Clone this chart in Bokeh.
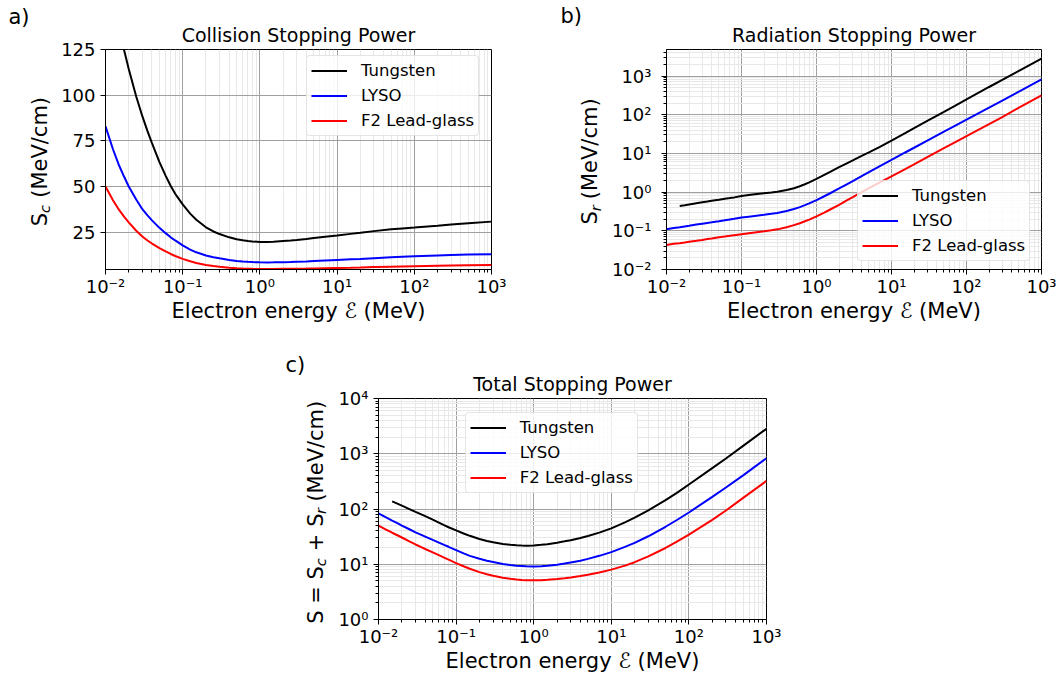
from bokeh.plotting import figure
from bokeh.models import Range1d, FixedTicker, Legend, LegendItem, Spacer, Title
from bokeh.layouts import row, column
from bokeh.embed import file_html
from bokeh.resources import INLINE

# ---------------- data ----------------
energy_mev = [0.01, 0.0125, 0.015, 0.0175, 0.02, 0.025, 0.03, 0.035, 0.04, 0.05, 0.06, 0.07, 0.08,
              0.1, 0.125, 0.15, 0.2, 0.25, 0.3, 0.4, 0.5, 0.6, 0.7, 0.8, 1, 1.25, 1.5, 2, 2.5, 3,
              4, 5, 7, 10, 15, 20, 30, 50, 70, 100, 200, 300, 500, 1000]
energy_tungsten = [0.015, 0.0175, 0.02, 0.025, 0.03, 0.035, 0.04, 0.05, 0.06, 0.07, 0.08,
                   0.1, 0.125, 0.15, 0.2, 0.25, 0.3, 0.4, 0.5, 0.6, 0.7, 0.8, 1, 1.25, 1.5, 2, 2.5, 3,
                   4, 5, 7, 10, 15, 20, 30, 50, 70, 100, 200, 300, 500, 1000]

collision_tungsten = [137, 124.3, 114.3, 99.3, 88.5, 80.3, 73.8, 63.4, 56.0, 50.3, 46.0,
                      40.2, 35.2, 31.8, 27.7, 25.4, 24.0, 22.2, 21.2, 20.6, 20.2, 19.95, 19.7, 19.7, 19.8,
                      20.2, 20.5, 20.8, 21.3, 21.8, 22.5, 23.2, 24.1, 24.7, 25.6, 26.6, 27.1, 27.6,
                      28.6, 29.2, 29.9, 30.8]
collision_lyso = [83, 70.4, 61.5, 55.2, 50.0, 42.9, 37.6, 34.2, 31.5, 27.4, 24.5, 22.2, 20.5,
                  17.8, 15.5, 14.0, 12.3, 11.3, 10.7, 9.8, 9.3, 9.0, 8.8, 8.65, 8.5, 8.45, 8.5, 8.6,
                  8.7, 8.85, 9.0, 9.2, 9.5, 9.8, 10.15, 10.4, 10.8, 11.25, 11.55, 11.85, 12.3, 12.5,
                  12.75, 13.0]
collision_f2 = [50, 42.5, 37.2, 33.4, 30.4, 25.8, 22.7, 20.5, 18.8, 16.3, 14.5, 13.1, 12.0,
                10.4, 9.1, 8.2, 7.1, 6.5, 6.1, 5.6, 5.3, 5.12, 5.02, 4.95, 4.88, 4.86, 4.88, 4.95,
                5.0, 5.05, 5.13, 5.2, 5.32, 5.45, 5.6, 5.72, 5.9, 6.12, 6.26, 6.4, 6.65, 6.78,
                6.93, 7.1]

radiation_tungsten = [0.44, 0.46, 0.48, 0.515, 0.545, 0.57, 0.595, 0.635, 0.67, 0.70, 0.73,
                      0.79, 0.84, 0.88, 0.94, 0.98, 1.02, 1.13, 1.26, 1.42, 1.6, 1.78, 2.2, 2.75, 3.3,
                      4.4, 5.45, 6.5, 8.6, 10.6, 14.8, 21.5, 33, 45, 69, 118, 169, 250, 520, 790,
                      1360, 2800]
radiation_lyso = [0.11, 0.1175, 0.124, 0.130, 0.135, 0.145, 0.153, 0.16, 0.166, 0.177, 0.188, 0.197,
                  0.205, 0.22, 0.232, 0.242, 0.259, 0.274, 0.29, 0.325, 0.365, 0.41, 0.46, 0.51,
                  0.62, 0.77, 0.92, 1.24, 1.57, 1.9, 2.6, 3.3, 4.7, 6.8, 10.4, 14.0, 21.3, 36.4,
                  51.6, 74.6, 153, 232, 394, 817]
radiation_f2 = [0.043, 0.046, 0.048, 0.050, 0.052, 0.055, 0.058, 0.061, 0.063, 0.068, 0.071, 0.074,
                0.077, 0.082, 0.087, 0.091, 0.097, 0.103, 0.109, 0.124, 0.14, 0.157, 0.176, 0.195,
                0.235, 0.29, 0.35, 0.47, 0.6, 0.73, 1.0, 1.27, 1.78, 2.55, 3.85, 5.2, 8.0, 13.6,
                19.3, 28, 57, 87, 152, 316]

total_tungsten = [137.4, 124.8, 114.8, 99.8, 89.0, 80.9, 74.4, 64.0, 56.7, 51.0, 46.7,
                  41.0, 36.0, 32.7, 28.6, 26.4, 25.0, 23.3, 22.5, 22.0, 21.8, 21.7, 21.9, 22.5, 23.1,
                  24.6, 26.0, 27.3, 29.9, 32.4, 37.3, 44.7, 57.1, 69.7, 94.6, 144.6, 196.1, 277.6,
                  548.6, 819.2, 1390, 2831]
total_lyso = [83.1, 70.5, 61.6, 55.3, 50.1, 43.0, 37.8, 34.4, 31.7, 27.6, 24.7, 22.4, 20.7,
              18.0, 15.7, 14.2, 12.6, 11.6, 11.0, 10.1, 9.7, 9.4, 9.3, 9.2, 9.1, 9.2, 9.4, 9.8,
              10.3, 10.8, 11.6, 12.5, 14.2, 16.6, 20.6, 24.4, 32.1, 47.7, 63.2, 86.5, 165.3,
              244.5, 406.8, 830]
total_f2 = [50.0, 42.5, 37.2, 33.5, 30.5, 25.9, 22.8, 20.6, 18.9, 16.4, 14.6, 13.2, 12.1,
            10.5, 9.2, 8.3, 7.2, 6.6, 6.2, 5.72, 5.44, 5.28, 5.2, 5.15, 5.12, 5.15, 5.23, 5.42,
            5.6, 5.78, 6.13, 6.47, 7.1, 8.0, 9.45, 10.9, 13.9, 19.7, 25.6, 34.4, 63.7, 93.8,
            158.9, 323.1]

series_names = ["Tungsten", "LYSO", "F2 Lead-glass"]
series_colors = ["black", "blue", "red"]

x_ticks = [0.01, 0.1, 1, 10, 100, 1000]
x_tick_labels = ["10⁻²", "10⁻¹", "10⁰", "10¹", "10²", "10³"]
ya_ticks = [25, 50, 75, 100, 125]
yb_ticks = [0.01, 0.1, 1, 10, 100, 1000]
yb_tick_labels = ["10⁻²", "10⁻¹", "10⁰", "10¹", "10²", "10³"]
yc_ticks = [1, 10, 100, 1000, 10000]
yc_tick_labels = ["10⁰", "10¹", "10²", "10³", "10⁴"]

XLABEL = "Electron energy ℰ (MeV)"
FONT = "DejaVu Sans"
MAIN = 21.0      # axis-label font size (px)
SUB = 14.7       # subscript font size (px)
HF = 1.17        # text-box height / font size
DF = 0.236       # descent / font size


def minor_list(e0, e1, top=None):
    out = []
    for e in range(e0, e1):
        for m in range(2, 10):
            v = m * 10.0 ** e
            if top is None or v <= top:
                out.append(v)
    return out


def make_fig(w, h, left, right, top, bottom, ytype, yr):
    p = figure(width=w, height=h, x_axis_type="log", y_axis_type=ytype,
               x_range=Range1d(0.01, 1000), y_range=Range1d(*yr),
               output_backend="svg", toolbar_location=None,
               min_border_left=left, min_border_right=right,
               min_border_top=top, min_border_bottom=bottom)
    p.background_fill_color = "white"
    p.border_fill_color = "white"
    p.outline_line_color = "black"
    p.outline_line_width = 1
    p.outline_line_alpha = 1
    for ax in (p.xaxis[0], p.yaxis[0]):
        ax.axis_line_color = "black"
        ax.major_tick_line_color = "black"
        ax.minor_tick_line_color = "black"
        ax.major_tick_out = 5
        ax.major_tick_in = 0
        ax.minor_tick_out = 3
        ax.minor_tick_in = 0
        ax.major_label_text_font = FONT
        ax.major_label_text_font_size = "18px"
        ax.major_label_text_color = "black"
    xt = FixedTicker(ticks=x_ticks, minor_ticks=minor_list(-2, 3))
    p.xaxis.ticker = xt
    p.xgrid.ticker = xt
    p.xaxis.major_label_overrides = dict(zip(x_ticks, x_tick_labels))
    p.xaxis.major_label_standoff = 1
    p.xaxis.axis_label = XLABEL
    p.xaxis.axis_label_text_font = FONT
    p.xaxis.axis_label_text_font_size = f"{MAIN}px"
    p.xaxis.axis_label_text_font_style = "normal"
    p.xaxis.axis_label_text_color = "black"
    p.xaxis.axis_label_standoff = -1
    p.xgrid.grid_line_color = "#a0a0a0"
    p.xgrid.minor_grid_line_color = "#e8e8e8"
    p.ygrid.grid_line_color = "#a0a0a0"
    return p


def mk_title(text, size, align, valign, offset, standoff, style="normal"):
    return Title(text=text, align=align, vertical_align=valign, offset=offset, standoff=standoff,
                 text_font=FONT, text_font_size=f"{size}px", text_font_style=style,
                 text_color="black")


def headings(p, letter, title, frame_top, letter_x, letter_base, title_size=19.0, title_sd=6.2):
    p.add_layout(mk_title(title, title_size, "center", "bottom", 0, title_sd), "above")
    size_t = 2 + HF * title_size + title_sd
    bb = frame_top - size_t
    target = letter_base + DF * MAIN
    sd = 2 * (bb - target)
    p.title = mk_title(letter, MAIN, "left", "bottom", letter_x, sd)


def ylabel(p, main_text, sub_text, r0, base_main, base_sub, off_main, off_sub):
    b_main = base_main + DF * MAIN
    b_sub = base_sub + DF * SUB
    s_main = 2 * (r0 - b_main)
    size_main = 2 + HF * MAIN + s_main
    r1 = r0 - size_main
    s_sub = 2 * (r1 - b_sub)
    p.add_layout(mk_title(main_text, MAIN, "left", "bottom", off_main, s_main), "left")
    p.add_layout(mk_title(sub_text, SUB, "left", "bottom", off_sub, s_sub, "italic"), "left")


def legend(p, rends, loc):
    items = [LegendItem(label=n, renderers=[r]) for n, r in zip(series_names, rends)]
    lg = Legend(items=items, location=loc, orientation="vertical",
                label_text_font=FONT, label_text_font_size="16.5px", label_text_color="black",
                glyph_width=36, glyph_height=21, label_height=21, label_standoff=14,
                spacing=4, padding=4, margin=0,
                border_line_color="#cccccc", border_line_width=1,
                background_fill_color="white", background_fill_alpha=0.8)
    if "border_radius" in Legend.properties():
        lg.border_radius = 4
    p.add_layout(lg)


def curves(p, xs_list, ys_list):
    return [p.line(xs, ys, line_color=c, line_width=2)
            for xs, ys, c in zip(xs_list, ys_list, series_colors)]


# ---------------- panel a ----------------
pa = make_fig(520, 330, 105, 29, 48, 61, "linear", (4.6, 125))
pa.yaxis.ticker = FixedTicker(ticks=ya_ticks, minor_ticks=[])
pa.ygrid.ticker = FixedTicker(ticks=ya_ticks, minor_ticks=[])
pa.yaxis.major_label_standoff = 5
ra = curves(pa, [energy_tungsten, energy_mev, energy_mev], [collision_tungsten, collision_lyso, collision_f2])
legend(pa, ra, (201, 133))
headings(pa, "a)", "Collision Stopping Power", 48, -97, 22.3)
ylabel(pa, "S\u2009\u2009 (MeV/cm)", "c", 105 - 44.4, 49, 51, 43.3, 56.6)

# ---------------- panel b ----------------
pb = make_fig(540, 330, 146, 19, 49, 61, "log", (0.01, 4840))
ybt = FixedTicker(ticks=yb_ticks, minor_ticks=minor_list(-2, 4, 4840))
pb.yaxis.ticker = ybt
pb.ygrid.ticker = ybt
pb.yaxis.major_label_overrides = dict(zip(yb_ticks, yb_tick_labels))
pb.yaxis.major_label_standoff = 10
pb.ygrid.minor_grid_line_color = "#e8e8e8"
rb = curves(pb, [energy_tungsten, energy_mev, energy_mev], [radiation_tungsten, radiation_lyso, radiation_f2])
legend(pb, rb, (191, 8))
headings(pb, "b)", "Radiation Stopping Power", 49, -106, 22.3)
ylabel(pb, "S\u2005 (MeV/cm)", "r", 146 - 54.5, 600.5 - 520, 602.5 - 520, 45, 58.3)

# ---------------- panel c ----------------
pc = make_fig(540, 345, 118, 34, 68, 56, "log", (1, 10000))
yct = FixedTicker(ticks=yc_ticks, minor_ticks=minor_list(0, 4))
pc.yaxis.ticker = yct
pc.ygrid.ticker = yct
pc.yaxis.major_label_overrides = dict(zip(yc_ticks, yc_tick_labels))
pc.yaxis.major_label_standoff = 5
pc.ygrid.minor_grid_line_color = "#e8e8e8"
rc = curves(pc, [energy_tungsten, energy_mev, energy_mev], [total_tungsten, total_lyso, total_f2])
legend(pc, rc, (86.7, 126.3))
headings(pc, "c)", "Total Stopping Power", 68, -93, 371 - 330)
ylabel(pc, "S = S\u2009\u2009 + S\u2005 (MeV/cm)", "c\u2003\u2003\u2003r",
       118 - 40.1, 325 - 260, 327 - 260, -4.3, 53.3)

layout = column(row(pa, pb), row(Spacer(width=260, height=345), pc))

open("out.html", "w").write(file_html(layout, INLINE))
